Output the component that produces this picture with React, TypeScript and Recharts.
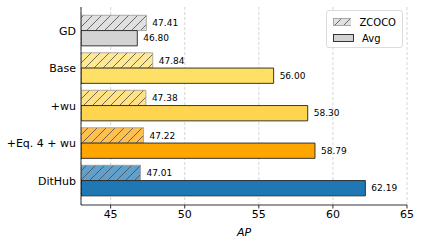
import React from 'react';
import { BarChart, Bar, XAxis, YAxis, CartesianGrid, Cell, LabelList } from 'recharts';

const categories = ['GD', 'Base', '+wu', '+Eq. 4 + wu', 'DitHub'];
const zcocoValues = [47.41, 47.84, 47.38, 47.22, 47.01];
const avgValues = [46.8, 56.0, 58.3, 58.79, 62.19];
const xTicks = [45, 50, 55, 60, 65];
const X_MIN = 43;
const X_MAX = 65;

const barColors = ['#d3d3d3', '#ffe066', '#ffd54f', '#ffa500', '#1f77b4'];

const FONT = '"DejaVu Sans", sans-serif';

// mix a colour with white, like alpha=0.7 on a white background
const fade = (hex: string, a: number) => {
  const n = parseInt(hex.slice(1), 16);
  const ch = [(n >> 16) & 255, (n >> 8) & 255, n & 255].map((c) => Math.round(c * a + 255 * (1 - a)));
  return `rgb(${ch.join(',')})`;
};

const data = categories.map((name, i) => ({
  name,
  zcoco: zcocoValues[i],
  avg: avgValues[i],
}));

const fmt = (v: any) => Number(v).toFixed(2);

function HatchPattern({ id, fill }: { id: string; fill: string }) {
  const s = 9;
  return (
    <pattern id={id} patternUnits="userSpaceOnUse" width={s} height={s}>
      <rect width={s} height={s} fill={fill} />
      <path
        d={`M-2,2 L2,-2 M0,${s} L${s},0 M${s - 2},${s + 2} L${s + 2},${s - 2}`}
        stroke="#4a4a4a"
        strokeWidth={0.8}
      />
    </pattern>
  );
}

function LegendBox() {
  return (
    <div
      style={{
        position: 'absolute',
        left: 326,
        top: 10,
        width: 77,
        height: 38,
        border: '1px solid #dcdcdc',
        borderRadius: 3,
        background: 'rgba(255,255,255,0.85)',
        padding: '3px 6px',
        fontFamily: FONT,
        fontSize: 10,
        color: '#000',
        boxSizing: 'border-box',
      }}
    >
      <div style={{ display: 'flex', alignItems: 'center', height: 16 }}>
        <svg width={21} height={8} style={{ marginRight: 8 }}>
          <defs>
            <HatchPattern id="legend-hatch" fill={fade('#d3d3d3', 0.7)} />
          </defs>
          <rect x={0.5} y={0.5} width={20} height={7} fill="url(#legend-hatch)" stroke="#999" strokeWidth={0.8} />
        </svg>
        <span>ZCOCO</span>
      </div>
      <div style={{ display: 'flex', alignItems: 'center', height: 16 }}>
        <svg width={21} height={8} style={{ marginRight: 8 }}>
          <rect x={0.5} y={0.5} width={20} height={7} fill="#d3d3d3" stroke="#222" strokeWidth={0.9} />
        </svg>
        <span>Avg</span>
      </div>
    </div>
  );
}

export default function App() {
  return (
    <div style={{ position: 'fixed', left: 0, top: 0, width: 421, height: 244, background: '#fff' }}>
      <BarChart
        width={421}
        height={244}
        data={data}
        layout="vertical"
        margin={{ top: 7, right: 14, bottom: 0, left: 0 }}
        barGap={0}
        barSize={15.3}
      >
        <defs>
          {barColors.map((c, i) => (
            <HatchPattern key={i} id={`hatch-${i}`} fill={fade(c, 0.7)} />
          ))}
        </defs>
        <CartesianGrid horizontal={false} stroke="#cccccc" strokeDasharray="3 2" strokeWidth={0.8} />
        <XAxis
          type="number"
          domain={[X_MIN, X_MAX]}
          ticks={xTicks}
          allowDataOverflow
          height={39}
          tick={{ fontSize: 11, fill: '#000', fontFamily: FONT }}
          tickSize={3.5}
          tickMargin={2}
          axisLine={{ stroke: '#000', strokeWidth: 0.8 }}
          tickLine={{ stroke: '#000', strokeWidth: 0.8 }}
          label={{
            value: 'AP',
            position: 'insideBottom',
            offset: 8,
            style: { fontSize: 11, fontStyle: 'italic', fill: '#000', fontFamily: FONT },
          }}
        />
        <YAxis
          type="category"
          dataKey="name"
          width={81}
          padding={{ top: 5.25, bottom: 5.25 }}
          tick={{ fontSize: 11, fill: '#000', fontFamily: FONT }}
          tickLine={false}
          tickSize={0}
          tickMargin={5}
          axisLine={{ stroke: '#000', strokeWidth: 0.8 }}
        />
        <Bar
          dataKey={(d: any) => [X_MIN, d.zcoco]}
          name="ZCOCO"
          isAnimationActive={false}
        >
          {data.map((_, i) => (
            <Cell key={i} fill={`url(#hatch-${i})`} stroke="#9a9a9a" strokeWidth={0.8} />
          ))}
          <LabelList
            dataKey="zcoco"
            position="right"
            offset={6}
            formatter={fmt}
            style={{ fontSize: 9, fill: '#000', fontFamily: FONT }}
          />
        </Bar>
        <Bar
          dataKey={(d: any) => [X_MIN, d.avg]}
          name="Avg"
          isAnimationActive={false}
        >
          {data.map((_, i) => (
            <Cell key={i} fill={barColors[i]} stroke="#222" strokeWidth={0.9} />
          ))}
          <LabelList
            dataKey="avg"
            position="right"
            offset={6}
            formatter={fmt}
            style={{ fontSize: 9, fill: '#000', fontFamily: FONT }}
          />
        </Bar>
      </BarChart>
      <LegendBox />
    </div>
  );
}
